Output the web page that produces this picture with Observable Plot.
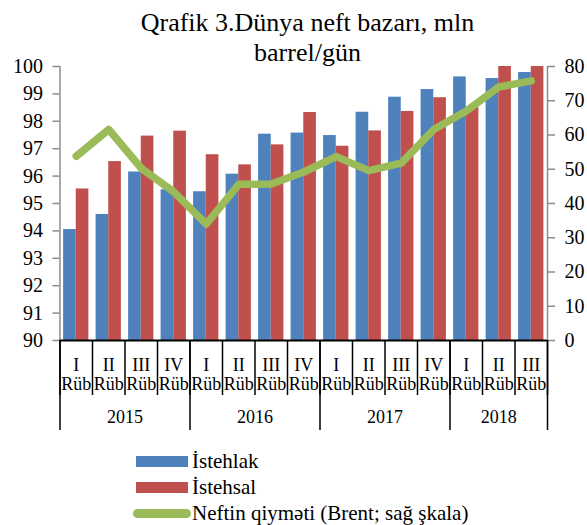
<!DOCTYPE html>
<html>
<head>
<meta charset="utf-8">
<script src="https://cdn.jsdelivr.net/npm/d3@7"></script>
<script src="https://cdn.jsdelivr.net/npm/@observablehq/plot@0.6"></script>
<style>
  html, body { margin: 0; padding: 0; background: white; }
  #wrap { position: relative; width: 587px; height: 525px; font-family: "Liberation Serif", "Times New Roman", serif; color: black; }
  #title { position: absolute; left: 127px; top: 8px; width: 361px; text-align: center; font-size: 26px; line-height: 30px; }
  #chart { position: absolute; left: 0; top: 0; }
  #legend { position: absolute; left: 133px; top: 448px; font-size: 21px; }
  .row { display: flex; align-items: center; height: 26px; }
  .sw { width: 52px; height: 11px; margin-left: 3px; margin-right: 4px; }
  .swl { width: 58px; height: 9px; border-radius: 5px; margin-right: 1px; }
</style>
</head>
<body>
<div id="wrap">
  <div id="chart"></div>
  <div id="title">Qrafik 3.Dünya neft bazarı, mln barrel/gün</div>
  <div id="legend"></div>
</div>
<script>
// ---- data ----
const quarterLabels = ["I","II","III","IV","I","II","III","IV","I","II","III","IV","I","II","III"];
const quarterYears  = ["2015","2015","2015","2015","2016","2016","2016","2016","2017","2017","2017","2017","2018","2018","2018"];
const demand = [94.05, 94.6, 96.15, 95.5, 95.43, 96.07, 97.53, 97.57, 97.48, 98.33, 98.88, 99.16, 99.62, 99.56, 99.78];
const supply = [95.53, 96.53, 97.46, 97.64, 96.78, 96.41, 97.14, 98.32, 97.09, 97.65, 98.36, 98.86, 98.5, 100.4, 100.4];
const brent  = [53.8, 61.6, 50.3, 43.4, 34.0, 45.6, 45.7, 49.2, 53.7, 49.6, 51.8, 61.6, 67.0, 74.0, 75.8];
const leftTicks  = [90, 91, 92, 93, 94, 95, 96, 97, 98, 99, 100];
const rightTicks = [0, 10, 20, 30, 40, 50, 60, 70, 80];
const seriesNames = ["İstehlak", "İstehsal", "Neftin qiymәti (Brent; sağ şkala)"];
const colors = ["#4f81bd", "#c0504d", "#9bbb59"];

// ---- derived ----
const yDomain = [leftTicks[0], leftTicks[leftTicks.length - 1]];
const bDomain = [rightTicks[0], rightTicks[rightTicks.length - 1]];
const k = (yDomain[1] - yDomain[0]) / (bDomain[1] - bDomain[0]);
const toLeft = b => yDomain[0] + (b - bDomain[0]) * k;
const fromLeft = y => Math.round((y - yDomain[0]) / k + bDomain[0]);
const n = quarterLabels.length;
const xDomain = [-0.5, n - 0.5];
const boundaries = d3.range(n + 1).map(i => i - 0.5);
const years = Array.from(new Set(quarterYears));
const yearGroups = years.map(y => {
  const idx = quarterYears.map((v, i) => v === y ? i : -1).filter(i => i >= 0);
  return {year: y, center: d3.mean(idx), start: idx[0] - 0.5};
});
const yearBounds = yearGroups.map(g => g.start).concat([n - 0.5]);

const serif = "Liberation Serif, Times New Roman, serif";
const gray = "#8c8c8c";

const chart = Plot.plot({
  width: 587,
  height: 440,
  marginLeft: 59.5,
  marginRight: 40,
  marginTop: 66,
  marginBottom: 100,
  style: {fontFamily: serif, fontSize: "20px", color: "black", background: "transparent", overflow: "visible"},
  x: {type: "linear", domain: xDomain, axis: null},
  y: {domain: yDomain, axis: null},
  marks: [
    Plot.rectY(demand, {x1: (d, i) => i - 0.5, x2: (d, i) => i, y1: yDomain[0], y2: d => d, fill: colors[0], insetLeft: 3.6, clip: true}),
    Plot.rectY(supply, {x1: (d, i) => i, x2: (d, i) => i + 0.5, y1: yDomain[0], y2: d => d, fill: colors[1], insetRight: 3.6, clip: true}),
    Plot.ruleX(xDomain, {stroke: gray, strokeWidth: 1.5}),
    Plot.axisY(leftTicks, {anchor: "left", tickSize: 7, tickPadding: 10, stroke: gray, strokeWidth: 1.5, fill: "black", fontSize: 20, label: null, tickFormat: d => d}),
    Plot.axisY(rightTicks.map(toLeft), {anchor: "right", tickSize: 7, tickPadding: 10, stroke: gray, strokeWidth: 1.5, fill: "black", fontSize: 20, label: null, tickFormat: fromLeft}),
    Plot.ruleY([yDomain[0]], {stroke: "black", strokeWidth: 2}),
    Plot.ruleX(boundaries, {y1: yDomain[0], y2: yDomain[0], insetBottom: -55, stroke: "black", strokeWidth: 1.5}),
    Plot.ruleX(yearBounds, {y1: yDomain[0], y2: yDomain[0], insetBottom: -90, stroke: "black", strokeWidth: 1.5}),
    Plot.text(quarterLabels, {x: (d, i) => i, y: yDomain[0], text: d => d + "\nRüb", lineAnchor: "top", dy: 16, lineHeight: 1.1, fontSize: 18, fill: "black"}),
    Plot.text(yearGroups, {x: "center", y: yDomain[0], text: "year", lineAnchor: "top", dy: 70, fontSize: 18, fill: "black"}),
    Plot.line(brent, {x: (d, i) => i, y: d => toLeft(d), stroke: colors[2], strokeWidth: 7.5, strokeLinecap: "round", strokeLinejoin: "round"})
  ]
});
document.getElementById("chart").appendChild(chart);

// legend
const legend = document.getElementById("legend");
seriesNames.forEach((name, i) => {
  const row = document.createElement("div");
  row.className = "row";
  const sw = document.createElement("span");
  sw.className = i === 2 ? "swl" : "sw";
  sw.style.background = colors[i];
  const t = document.createElement("span");
  t.textContent = name;
  row.appendChild(sw);
  row.appendChild(t);
  legend.appendChild(row);
});
</script>
</body>
</html>
